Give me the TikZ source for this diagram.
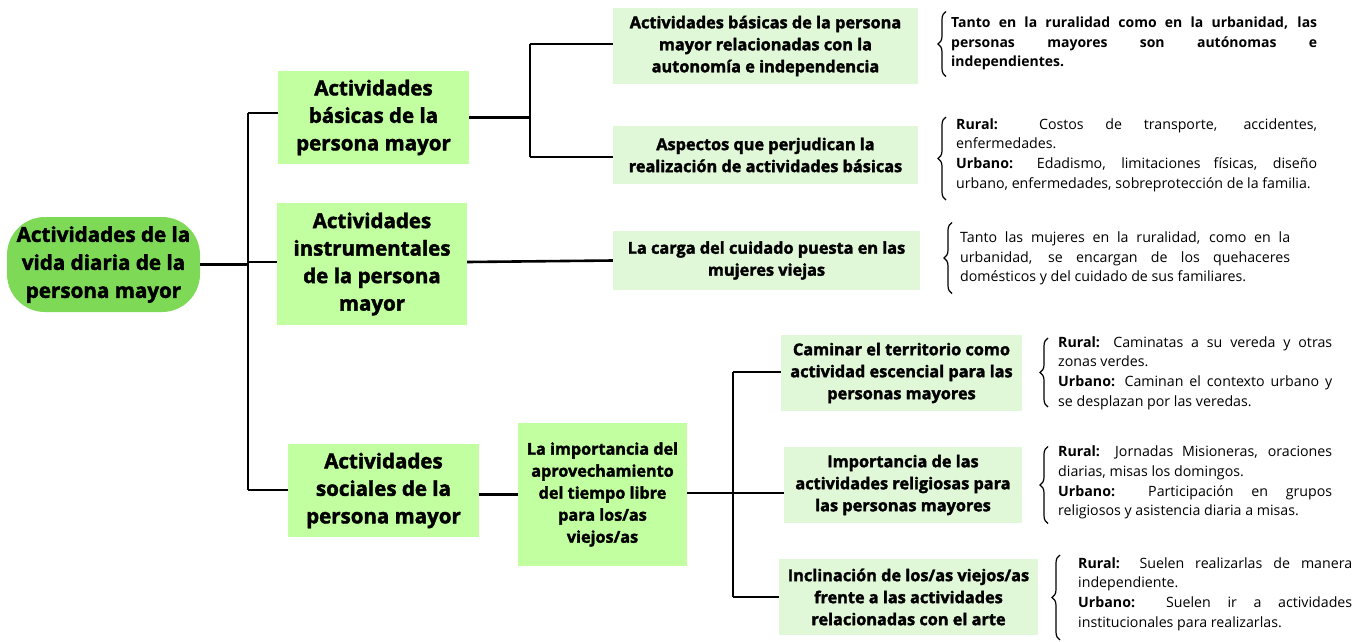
\documentclass[tikz,border=0pt]{standalone}
\usepackage{fontspec}
\setmainfont{Open Sans}
\newfontfamily\heavyfont{Open Sans}[BoldFeatures={FakeBold=2}]
\usetikzlibrary{decorations.pathreplacing}
\definecolor{rootg}{HTML}{7ED957}
\definecolor{lvlone}{HTML}{C1FFA0}
\definecolor{lvltwo}{HTML}{E0F8D8}
\newcommand{\JustLine}[2]{\makebox[#1][s]{#2}}
\begin{document}
\begin{tikzpicture}[x=1pt,y=-1pt,
  lnk/.style={line width=2.6pt, black},
  rootbox/.style={fill=rootg, rounded corners=38pt, minimum width=193pt, minimum height=95pt, align=center, inner sep=0pt, font=\heavyfont\bfseries\fontsize{20.6}{28}\selectfont},
  lonebox/.style={fill=lvlone, align=center, inner sep=0pt, font=\heavyfont\bfseries\fontsize{20.5}{27.5}\selectfont},
  ltwobox/.style={fill=lvltwo, align=center, inner sep=0pt, font=\heavyfont\bfseries\fontsize{16.3}{22}\selectfont},
  desc/.style={anchor=west, align=left, inner sep=0pt, font=\fontsize{14.2}{19.7}\selectfont},
  brc/.style={decorate, decoration={brace, amplitude=8pt}, line width=1.2pt}
]
\useasboundingbox (0,0) rectangle (1369,641);
\fill[white] (0,0) rectangle (1369,641);

% root
\node[rootbox] (root) at (103.5,264.5) {Actividades de la\\vida diaria de la\\persona mayor};

% level 1
\node[lonebox, minimum width=191pt, minimum height=93pt] (b1) at (373.5,117.5) {Actividades\\básicas de la\\persona mayor};
\node[lonebox, minimum width=190pt, minimum height=122pt] (b2) at (372,264) {Actividades\\instrumentales\\de la persona\\mayor};
\node[lonebox, minimum width=191pt, minimum height=93pt] (b3) at (383.5,490.5) {Actividades\\sociales de la\\persona mayor};
\node[lonebox, font=\heavyfont\bfseries\fontsize{16.2}{22}\selectfont, minimum width=169pt, minimum height=143pt] (imp) at (602.5,494.5) {La importancia del\\aprovechamiento\\del tiempo libre\\para los/as\\viejos/as};

% level 2
\node[ltwobox, minimum width=305pt, minimum height=76pt] (nA) at (765.5,46) {Actividades básicas de la persona\\mayor relacionadas con la\\autonomía e independencia};
\node[ltwobox, minimum width=305pt, minimum height=58pt] (nB) at (765.5,155) {Aspectos que perjudican la\\realización de actividades básicas};
\node[ltwobox, minimum width=307pt, minimum height=59pt] (nC) at (766.5,260.5) {La carga del cuidado puesta en las\\mujeres viejas};
\node[ltwobox, minimum width=241pt, minimum height=76pt] (nD) at (901.5,373) {Caminar el territorio como\\actividad escencial para las\\personas mayores};
\node[ltwobox, minimum width=238pt, minimum height=76pt] (nE) at (903,485) {Importancia de las\\actividades religiosas para\\las personas mayores};
\node[ltwobox, minimum width=259pt, minimum height=76pt] (nF) at (908.5,597) {Inclinación de los/as viejos/as\\frente a las actividades\\relacionadas con el arte};

% descriptions
\node[desc, font=\bfseries\fontsize{14}{19.7}\selectfont] (tA) at (951,43.5) {\JustLine{366pt}{Tanto en la ruralidad como en la urbanidad, las}\\\JustLine{366pt}{personas mayores son autónomas e}\\independientes.};
\node[desc] (tB) at (956,155) {\JustLine{361pt}{\textbf{Rural:} Costos de transporte, accidentes,}\\enfermedades.\\\JustLine{361pt}{\textbf{Urbano:} Edadismo, limitaciones físicas, diseño}\\urbano, enfermedades, sobreprotección de la familia.};
\node[desc] (tC) at (960,258.5) {\JustLine{330pt}{Tanto las mujeres en la ruralidad, como en la}\\\JustLine{330pt}{urbanidad, se encargan de los quehaceres}\\domésticos y del cuidado de sus familiares.};
\node[desc] (tD) at (1058,373) {\JustLine{274pt}{\textbf{Rural:} Caminatas a su vereda y otras}\\zonas verdes.\\\JustLine{274pt}{\textbf{Urbano:} Caminan el contexto urbano y}\\se desplazan por las veredas.};
\node[desc] (tE) at (1058,482.5) {\JustLine{274pt}{\textbf{Rural:} Jornadas Misioneras, oraciones}\\diarias, misas los domingos.\\\JustLine{274pt}{\textbf{Urbano:} Participación en grupos}\\religiosos y asistencia diaria a misas.};
\node[desc] (tF) at (1078,594) {\JustLine{274pt}{\textbf{Rural:} Suelen realizarlas de manera}\\independiente.\\\JustLine{274pt}{\textbf{Urbano:} Suelen ir a actividades}\\institucionales para realizarlas.};

% braces
\draw[brc] ([shift={(-5,33)}]tA.west) -- ([shift={(-5,-32)}]tA.west);
\draw[brc] ([shift={(-10,45)}]tB.west) -- ([shift={(-10,-38)}]tB.west);
\draw[brc] ([shift={(-8,35)}]tC.west) -- ([shift={(-8,-36)}]tC.west);
\draw[brc] ([shift={(-10,34)}]tD.west) -- ([shift={(-10,-35)}]tD.west);
\draw[brc] ([shift={(-10,41)}]tE.west) -- ([shift={(-10,-36)}]tE.west);
\draw[brc] ([shift={(-18,46)}]tF.west) -- ([shift={(-18,-39)}]tF.west);

% connectors
\coordinate (busT) at (248,113);
\coordinate (busB) at (248,490);
\draw[lnk] (root.east) -- (root.east -| busT);
\draw[lnk] (busT) -- (busB);
\draw[lnk] (busT) -- (busT -| b1.west);
\draw[lnk] (b2.west |- 0,262) -- (busT |- 0,262);
\draw[lnk] (busB) -- (busB -| b3.west);

\coordinate (jT) at (530,44);
\coordinate (jB) at (530,157);
\draw[lnk] (b1.east) -- (b1.east -| jT);
\draw[lnk] (jT) -- (jB);
\draw[lnk] (jT) -- (jT -| nA.west);
\draw[lnk] (jB) -- (jB -| nB.west);

\draw[lnk] (b2.east |- 0,262) -- (nC.west);

\draw[lnk] (b3.east |- imp.west) -- (imp.west);

\coordinate (kT) at (733,372);
\coordinate (kM) at (733,493);
\coordinate (kB) at (733,597);
\draw[lnk] (imp.east |- kM) -- (kM);
\draw[lnk] (kT) -- (kB);
\draw[lnk] (kT) -- (kT -| nD.west);
\draw[lnk] (kM) -- (kM -| nE.west);
\draw[lnk] (kB) -- (kB -| nF.west);
\end{tikzpicture}
\end{document}
